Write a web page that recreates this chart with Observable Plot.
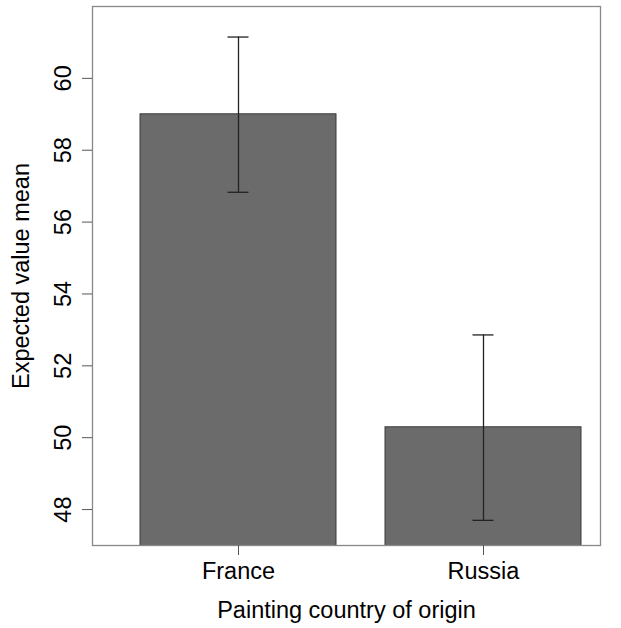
<!DOCTYPE html>
<html>
<head>
<meta charset="utf-8">
<script src="https://cdn.jsdelivr.net/npm/d3@7"></script>
<script src="https://cdn.jsdelivr.net/npm/@observablehq/plot@0.6"></script>
<style>
  html, body { margin: 0; padding: 0; background: #fff; }
  #chart svg { display: block; }
</style>
</head>
<body>
<div id="chart"></div>
<script>
const countries = ["France", "Russia"];
const means = [59.0, 50.29];
const lower = [56.83, 47.70];
const upper = [61.15, 52.86];
const yTicks = [48, 50, 52, 54, 56, 58, 60];

const data = countries.map((c, i) => ({country: c, mean: means[i], lo: lower[i], hi: upper[i]}));

const plot = Plot.plot({
  width: 621,
  height: 628,
  marginLeft: 92,
  marginRight: 21,
  marginTop: 6,
  marginBottom: 83,
  style: {fontFamily: "'Liberation Sans', Arial, Helvetica, sans-serif", fontSize: "23.5px", color: "#000", background: "#fff"},
  x: {domain: countries, range: [140, 581], paddingInner: 0.2, paddingOuter: 0},
  y: {domain: [47, 62]},
  marks: [
    Plot.barY(data, {x: "country", y: "mean", fill: "#6b6b6b", stroke: "#3a3a3a", strokeWidth: 1, clip: true}),
    Plot.ruleX(data, {x: "country", y1: "lo", y2: "hi", stroke: "#222", strokeWidth: 1.3}),
    Plot.tickY(data, {x: "country", y: "lo", stroke: "#222", strokeWidth: 1.3, insetLeft: 87.5, insetRight: 87.5}),
    Plot.tickY(data, {x: "country", y: "hi", stroke: "#222", strokeWidth: 1.3, insetLeft: 87.5, insetRight: 87.5}),
    Plot.frame({stroke: "#888", strokeWidth: 1.3}),
    Plot.axisY({ticks: yTicks, tickSize: 10, tickPadding: 12, tickRotate: -90, tickFormat: d => String(d),
      label: "Expected value mean", labelAnchor: "center", labelArrow: "none", labelOffset: 80, stroke: "#555"}),
    Plot.axisX({tickSize: 10, tickPadding: 7, label: "Painting country of origin", labelAnchor: "center", labelArrow: "none", labelOffset: 72, stroke: "#555"})
  ]
});
document.getElementById("chart").appendChild(plot);
</script>
</body>
</html>
